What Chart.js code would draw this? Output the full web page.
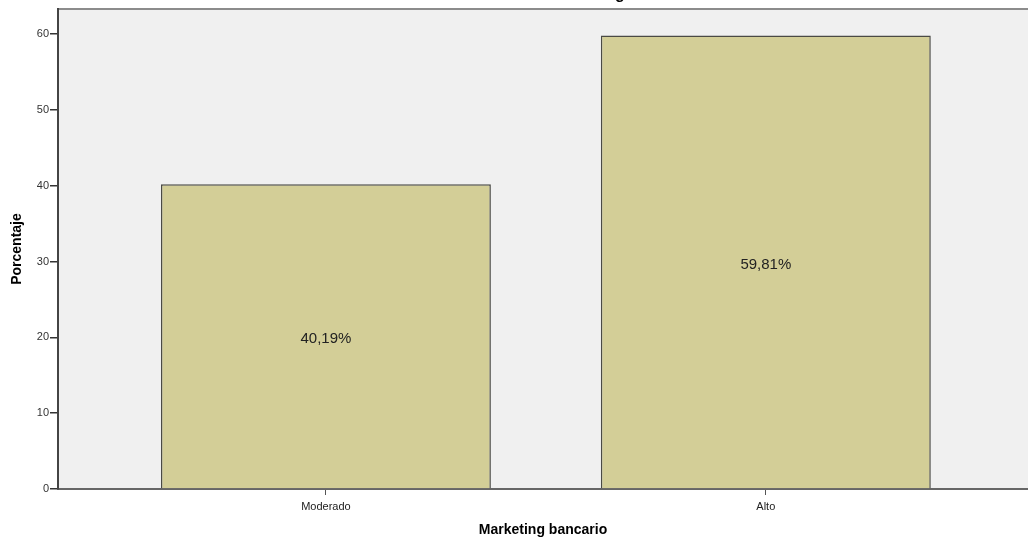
<!DOCTYPE html>
<html>
<head>
<meta charset="utf-8">
<script src="https://cdn.jsdelivr.net/npm/chart.js@4.4.0/dist/chart.umd.min.js"></script>
<style>
  html, body { margin: 0; padding: 0; background: #ffffff; overflow: hidden; }
  #wrap { width: 1028px; height: 539px; position: relative; }
</style>
</head>
<body>
<div id="wrap"><canvas id="c" width="1028" height="539"></canvas></div>
<script>
const categories = ['Moderado', 'Alto'];
const percentValues = [40.19, 59.81];
const valueLabels = ['40,19%', '59,81%'];
const yTicks = [0, 10, 20, 30, 40, 50, 60];
const chartTitle = 'Marketing bancario';
const xTitle = 'Marketing bancario';
const yTitle = 'Porcentaje';

const FONT = '"Liberation Sans", Arial, sans-serif';

const plotBg = {
  id: 'plotBg',
  beforeDraw(chart) {
    const { ctx, chartArea: a } = chart;
    ctx.save();
    ctx.fillStyle = '#f0f0f0';
    ctx.fillRect(a.left, a.top, a.right - a.left, a.bottom - a.top);
    ctx.strokeStyle = '#8c8c8c';
    ctx.lineWidth = 2;
    ctx.beginPath();
    ctx.moveTo(a.left, a.top);
    ctx.lineTo(a.right, a.top);
    ctx.stroke();
    // partially visible title, cut off at the top
    ctx.fillStyle = '#000';
    ctx.font = 'bold 16px ' + FONT;
    ctx.textBaseline = 'alphabetic';
    ctx.textAlign = 'left';
    const pre = ctx.measureText('Marketin').width;
    const gw = ctx.measureText('g').width;
    ctx.fillText(chartTitle, 620 - pre - gw / 2, -1);
    ctx.restore();
  },
  afterDatasetsDraw(chart) {
    const { ctx } = chart;
    const meta = chart.getDatasetMeta(0);
    ctx.save();
    ctx.fillStyle = '#222';
    ctx.font = '15px ' + FONT;
    ctx.textAlign = 'center';
    ctx.textBaseline = 'middle';
    meta.data.forEach((bar, i) => {
      const mid = (bar.y + bar.base) / 2 + 3;
      ctx.fillText(valueLabels[i], bar.x, mid);
    });
    ctx.restore();
  }
};

new Chart(document.getElementById('c'), {
  type: 'bar',
  data: {
    datasets: [{
      data: categories.map((c, i) => ({ x: i, y: percentValues[i] })),
      backgroundColor: '#d3ce97',
      borderColor: '#4a4a44',
      borderWidth: 1.5,
      borderSkipped: 'bottom',
      categoryPercentage: 1,
      barPercentage: 0.75
    }]
  },
  options: {
    responsive: false,
    animation: false,
    events: [],
    layout: { padding: { top: 9, right: 0, left: 0, bottom: 0 } },
    plugins: { legend: { display: false }, tooltip: { enabled: false }, title: { display: false } },
    scales: {
      x: {
        type: 'linear',
        offset: false,
        min: -0.609,
        max: 1.596,
        afterBuildTicks(s) { s.ticks = categories.map((c, i) => ({ value: i })); },
        afterFit(s) { s.height = 50; },
        ticks: {
          autoSkip: false,
          maxRotation: 0,
          padding: 5,
          color: '#222',
          font: { family: FONT, size: 11 },
          callback: (v) => categories[v] !== undefined ? categories[v] : ''
        },
        grid: { display: true, offset: false, drawOnChartArea: false, drawTicks: true, tickLength: 6, color: '#555', lineWidth: 1 },
        border: { display: true, color: '#666', width: 2 },
        title: { display: true, text: xTitle, color: '#000', font: { family: FONT, size: 14, weight: 'bold' }, padding: { top: 2, bottom: 0 } }
      },
      y: {
        min: 0,
        max: 63.3,
        afterBuildTicks(s) { s.ticks = yTicks.map(v => ({ value: v })); },
        afterFit(s) { s.width = 58; },
        ticks: {
          padding: 1,
          color: '#333',
          font: { family: FONT, size: 11 },
          callback: (v) => String(v)
        },
        grid: { display: true, drawOnChartArea: false, drawTicks: true, tickLength: 8, color: '#333', lineWidth: 1.5 },
        border: { display: true, color: '#444', width: 2 },
        title: { display: true, text: yTitle, color: '#000', font: { family: FONT, size: 14, weight: 'bold' }, padding: { top: 9, bottom: 4 } }
      }
    }
  },
  plugins: [plotBg]
});
</script>
</body>
</html>
